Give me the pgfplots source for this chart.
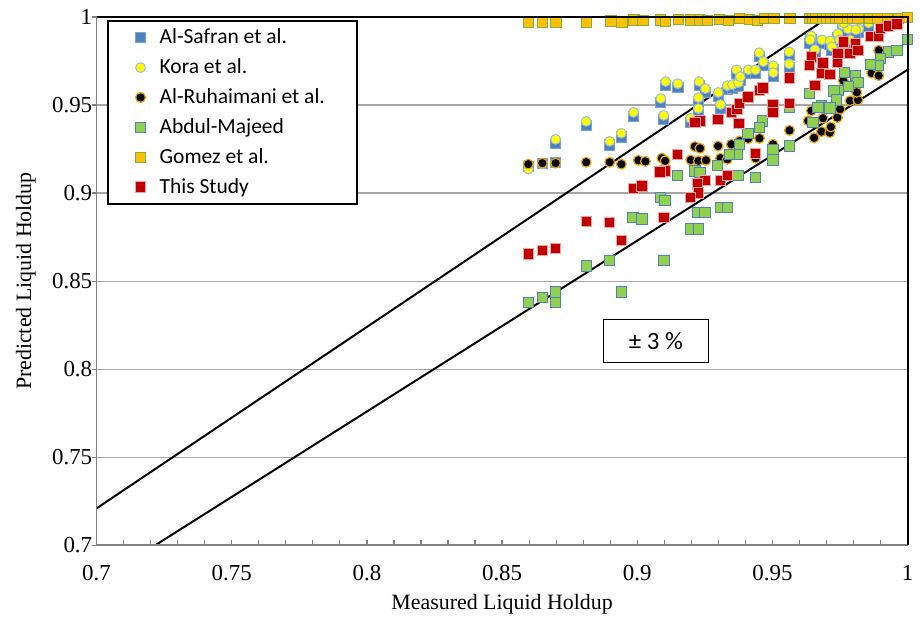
\documentclass[border=0pt]{standalone}
\usepackage{fontspec}
\setmainfont{Liberation Serif}
\newfontfamily\timesf{Liberation Serif}
\newfontfamily\carlito{Carlito}
\usepackage{pgfplots}
\pgfplotsset{compat=1.18}

\definecolor{safranfill}{HTML}{4F81BD}
\definecolor{safrandraw}{HTML}{7AA3D6}
\definecolor{korafill}{HTML}{FFFF00}
\definecolor{koradraw}{HTML}{9DBCE4}
\definecolor{ruhdraw}{HTML}{E8A400}
\definecolor{abdfill}{HTML}{92D050}
\definecolor{abddraw}{HTML}{4F81BD}
\definecolor{gomfill}{HTML}{FFC000}
\definecolor{gomdraw}{HTML}{7FAF45}
\definecolor{studyfill}{HTML}{C00000}
\definecolor{studydraw}{HTML}{F3A3A3}
\definecolor{gridgray}{HTML}{A6A6A6}
\definecolor{axgray}{HTML}{808080}

\begin{document}
\begin{tikzpicture}
\begin{axis}[
  at={(0,0)}, anchor=south west,
  scale only axis, width=407.5pt, height=265.5pt,
  xmin=0.7, xmax=1, ymin=0.7, ymax=1,
  xtick={0.7,0.75,0.8,0.85,0.9,0.95,1},
  ytick={0.7,0.75,0.8,0.85,0.9,0.95,1},
  minor x tick num=4,
  tick align=inside,
  major tick length=2.5pt, minor tick length=2.5pt,
  x tick style={axgray, line width=0.6pt},
  y tick style={axgray, line width=0.6pt, xshift=-2.5pt},
  xtick pos=bottom, ytick pos=left,
  ymajorgrids,
  y grid style={gridgray, line width=0.6pt},
  axis line style={draw=none},
  xticklabel={\pgfmathprintnumber[fixed,precision=2,assume math mode=true]{\tick}},
  yticklabel={\pgfmathprintnumber[fixed,precision=2,assume math mode=true]{\tick}},
  tick label style={font=\timesf\fontsize{11.5}{13}\selectfont},
  xticklabel style={anchor=center, yshift=-14pt},
  yticklabel style={inner xsep=2pt},
  xlabel={Measured Liquid Holdup},
  ylabel={Predicted Liquid Holdup},
  label style={font=\timesf\fontsize{11}{13}\selectfont},
  xlabel style={at={(axis description cs:0.5,-0.1105)}, anchor=center},
  ylabel style={at={(axis description cs:-0.087,0.5)}, anchor=center},
  clip mode=individual,
  legend cell align=left,
  legend style={at={(axis description cs:0.0123,0.9944)}, anchor=north west,
    draw=black, line width=1pt, fill=white,
    font=\carlito\fontsize{10.8}{12}\selectfont,
    inner xsep=14pt, inner ysep=2pt, row sep=2pt,
    /tikz/every odd column/.append style={column sep=5pt}},
]

% +/- 3 % band
\addplot[black, line width=1pt, forget plot] coordinates {(0.7,0.721) (0.97087,1.0)};
\addplot[black, line width=1pt, forget plot] coordinates {(0.72165,0.7) (1.0,0.97)};

% Al-Safran et al.
\addplot[only marks, mark=square*, mark size=2.6pt,
  mark options={fill=safranfill, draw=safrandraw, line width=0.5pt}] coordinates {
(0.8597,0.9150) (0.8649,0.9168) (0.8698,0.9172) (0.8698,0.9283) (0.8811,0.9385)
(0.8898,0.9272) (0.8941,0.9318) (0.8986,0.9436) (0.9105,0.9611) (0.9150,0.9599)
(0.9087,0.9515) (0.9098,0.9419) (0.9229,0.9611) (0.9252,0.9571) (0.9226,0.9520)
(0.9226,0.9458) (0.9197,0.9402) (0.9300,0.9549) (0.9308,0.9481) (0.9333,0.9588)
(0.9352,0.9594) (0.9374,0.9605) (0.9367,0.9678) (0.9381,0.9638) (0.9411,0.9678)
(0.9437,0.9678) (0.9451,0.9775) (0.9466,0.9724) (0.9503,0.9701) (0.9503,0.9662)
(0.9562,0.9780) (0.9562,0.9712) (0.9643,0.9870) (0.9639,0.9848) (0.9683,0.9848)
(0.9713,0.9842) (0.9657,0.9792) (0.9742,0.9882) (0.9760,0.9933) (0.9779,0.9910)
(0.9819,0.9910) (0.9749,0.9848) (0.9786,0.9848) (0.9856,0.9944) (0.9720,0.9809)
(0.9808,0.9905) (0.9764,0.9944)
};
\addlegendentry{Al-Safran et al.}

% Kora et al.
\addplot[only marks, mark=*, mark size=2.45pt,
  mark options={fill=korafill, draw=koradraw, line width=0.5pt}] coordinates {
(0.8597,0.9136) (0.8649,0.9165) (0.8698,0.9305) (0.8811,0.9407) (0.8898,0.9294)
(0.8941,0.9340) (0.8986,0.9458) (0.9105,0.9633) (0.9150,0.9621) (0.9087,0.9537)
(0.9098,0.9441) (0.9229,0.9633) (0.9252,0.9593) (0.9226,0.9542) (0.9226,0.9480)
(0.9197,0.9424) (0.9300,0.9571) (0.9308,0.9503) (0.9333,0.9610) (0.9352,0.9616)
(0.9374,0.9627) (0.9367,0.9700) (0.9381,0.9660) (0.9411,0.9700) (0.9437,0.9700)
(0.9451,0.9797) (0.9466,0.9746) (0.9503,0.9723) (0.9503,0.9684) (0.9562,0.9802)
(0.9562,0.9734) (0.9643,0.9892) (0.9639,0.9870) (0.9683,0.9870) (0.9713,0.9864)
(0.9657,0.9814) (0.9742,0.9904) (0.9760,0.9955) (0.9779,0.9932) (0.9819,0.9932)
(0.9749,0.9870) (0.9786,0.9870) (0.9856,0.9966) (0.9720,0.9831) (0.9808,0.9927)
(0.9764,0.9966)
};
\addlegendentry{Kora et al.}

% Al-Ruhaimani et al.
\addplot[only marks, mark=*, mark size=2.45pt,
  mark options={fill=black, draw=ruhdraw, line width=0.6pt}] coordinates {
(0.8597,0.9164) (0.8649,0.9170) (0.8698,0.9170) (0.8811,0.9175) (0.8898,0.9175)
(0.8941,0.9164) (0.9004,0.9186) (0.9030,0.9180) (0.9091,0.9198) (0.9103,0.9183)
(0.9213,0.9264) (0.9232,0.9254) (0.9299,0.9267) (0.9348,0.9277) (0.9379,0.9296)
(0.9410,0.9309) (0.9452,0.9311) (0.9198,0.9188) (0.9226,0.9183) (0.9254,0.9186)
(0.9308,0.9198) (0.9333,0.9192) (0.9502,0.9277) (0.9438,0.9198) (0.9644,0.9467)
(0.9632,0.9410) (0.9687,0.9425) (0.9681,0.9349) (0.9654,0.9314) (0.9712,0.9343)
(0.9716,0.9375) (0.9740,0.9429) (0.9750,0.9476) (0.9787,0.9524) (0.9816,0.9528)
(0.9812,0.9572) (0.9762,0.9638) (0.9893,0.9811) (0.9867,0.9681) (0.9893,0.9667)
(0.9563,0.9356)
};
\addlegendentry{Al-Ruhaimani et al.}

% Abdul-Majeed
\addplot[only marks, mark=square*, mark size=2.6pt,
  mark options={fill=abdfill, draw=abddraw, line width=0.5pt}] coordinates {
(0.8984,0.8863) (0.9017,0.8853) (0.8811,0.8586) (0.8898,0.8618) (0.8597,0.8379)
(0.8649,0.8407) (0.8698,0.8439) (0.8698,0.8379) (0.8941,0.8439) (0.9462,0.9409)
(0.9452,0.9371) (0.9410,0.9337) (0.9379,0.9277) (0.9369,0.9220) (0.9342,0.9220)
(0.9297,0.9158) (0.9149,0.9098) (0.9213,0.9126) (0.9232,0.9117) (0.9502,0.9249)
(0.9502,0.9188) (0.9373,0.9098) (0.9438,0.9089) (0.9087,0.8976) (0.9103,0.8957)
(0.9222,0.8891) (0.9250,0.8891) (0.9308,0.8919) (0.9333,0.8919) (0.9198,0.8797)
(0.9226,0.8797) (0.9099,0.8618) (0.9563,0.9267) (1.0000,0.9872) (0.9930,0.9801)
(0.9961,0.9811) (0.9899,0.9763) (0.9893,0.9725) (0.9862,0.9731) (0.9766,0.9686)
(0.9806,0.9667) (0.9816,0.9629) (0.9781,0.9605) (0.9743,0.9582) (0.9727,0.9580)
(0.9737,0.9528) (0.9638,0.9566) (0.9681,0.9495) (0.9713,0.9482) (0.9669,0.9486)
(0.9650,0.9400) (0.9562,0.9487)
};
\addlegendentry{Abdul-Majeed}

% Gomez et al.
\addplot[only marks, mark=square*, mark size=2.6pt,
  mark options={fill=gomfill, draw=gomdraw, line width=0.5pt}] coordinates {
(0.8597,0.9970) (0.8649,0.9970) (0.8700,0.9968) (0.8811,0.9970) (0.8903,0.9977)
(0.8944,0.9967) (0.8988,0.9982) (0.9021,0.9979) (0.9087,0.9982) (0.9105,0.9974)
(0.9153,0.9986) (0.9197,0.9982) (0.9230,0.9982) (0.9260,0.9979) (0.9304,0.9987)
(0.9337,0.9979) (0.9378,0.9992) (0.9414,0.9987) (0.9444,0.9979) (0.9470,0.9992)
(0.9506,0.9992) (0.9565,0.9992) (0.9639,0.9992) (0.9650,0.9992) (0.9660,0.9992)
(0.9687,0.9992) (0.9700,0.9992) (0.9716,0.9992) (0.9735,0.9992) (0.9750,0.9992)
(0.9780,0.9992) (0.9795,0.9992) (0.9816,0.9992) (0.9860,0.9992) (0.9890,0.9992)
(0.9926,0.9992) (0.9966,0.9992) (1.0000,0.9995)
};
\addlegendentry{Gomez et al.}

% This Study
\addplot[only marks, mark=square*, mark size=2.6pt,
  mark options={fill=studyfill, draw=studydraw, line width=0.5pt}] coordinates {
(0.8986,0.9027) (0.9017,0.9041) (0.8811,0.8840) (0.8898,0.8834) (0.8941,0.8731)
(0.8597,0.8655) (0.8649,0.8674) (0.8698,0.8684) (0.9149,0.9220) (0.9103,0.9126)
(0.9084,0.9120) (0.9232,0.9409) (0.9213,0.9400) (0.9299,0.9418) (0.9348,0.9456)
(0.9369,0.9475) (0.9379,0.9508) (0.9410,0.9546) (0.9452,0.9584) (0.9465,0.9597)
(0.9376,0.9395) (0.9502,0.9499) (0.9502,0.9456) (0.9438,0.9226) (0.9250,0.9070)
(0.9222,0.9051) (0.9226,0.9000) (0.9198,0.8976) (0.9308,0.9070) (0.9333,0.9098)
(0.9099,0.8863) (0.9563,0.9654) (0.9563,0.9509) (0.9644,0.9772) (0.9638,0.9725)
(0.9687,0.9738) (0.9681,0.9677) (0.9713,0.9673) (0.9657,0.9610) (0.9740,0.9740)
(0.9743,0.9792) (0.9762,0.9858) (0.9787,0.9792) (0.9808,0.9849) (0.9816,0.9811)
(0.9862,0.9890) (0.9893,0.9887) (0.9899,0.9934) (0.9930,0.9948) (0.9961,0.9959)
};
\addlegendentry{This Study}

% plot-area frame
\draw[axgray, line width=0.9pt] (rel axis cs:0,1) -- (rel axis cs:0,0) -- (rel axis cs:1,0);
\draw[black, line width=1pt] (rel axis cs:0,1) -- (rel axis cs:1,1) -- (rel axis cs:1,0);

% band annotation
\node[draw=black, line width=0.6pt, fill=white, minimum width=52.5pt, minimum height=21.5pt,
  font=\carlito\fontsize{12.5}{14}\selectfont] at (axis cs:0.9069,0.8161) {± 3 \%};
\end{axis}
\path[use as bounding box] (-48.5pt,-35.5pt) rectangle (411.5pt,274pt);
\end{tikzpicture}
\end{document}
